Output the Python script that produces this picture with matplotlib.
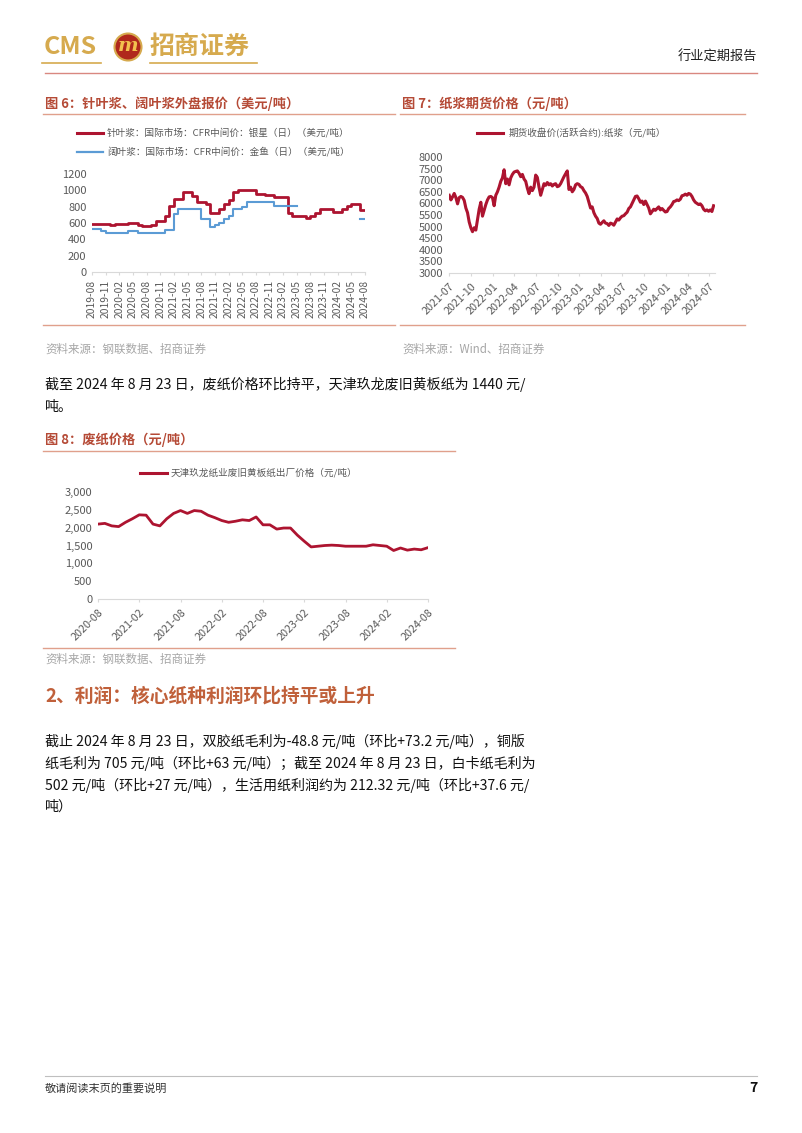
import numpy as np
import pandas as pd
import matplotlib
matplotlib.use('Agg')
import matplotlib.pyplot as plt
import matplotlib.dates as mdates
from matplotlib.lines import Line2D
from matplotlib.patches import Ellipse

plt.rcParams['font.family'] = ['Noto Sans CJK SC', 'DejaVu Sans']
plt.rcParams['axes.unicode_minus'] = False

# 图6 针叶浆 / 阔叶浆 外盘报价 (美元/吨), 月度, 2019-08 ~ 2024-08
pulp_months = pd.period_range('2019-08', '2024-08', freq='M').strftime('%Y-%m').tolist()
softwood = [590, 590, 590, 590, 570, 585, 585, 585, 600, 600, 580, 560, 560, 575, 620, 630,
            690, 810, 900, 900, 985, 985, 930, 860, 860, 830, 720, 720, 770, 830, 880, 980,
            1010, 1010, 1010, 1010, 960, 960, 940, 940, 920, 920, 920, 720, 680, 680, 680,
            665, 690, 720, 770, 770, 770, 740, 740, 770, 810, 835, 835, 760, 760]
hardwood = [525, 525, 500, 480, 480, 480, 480, 480, 505, 505, 480, 480, 480, 480, 480, 480,
            520, 520, 710, 770, 770, 770, 770, 770, 650, 650, 550, 570, 600, 650, 680, 770,
            770, 800, 860, 860, 860, 860, 860, 860, 810, 810, 810, 810, 810,
            None, None, None, None, None, None, None, None, None, None, None, None, None, None,
            650, 650]

# 图7 纸浆期货收盘价 (元/吨), 周度
futures_start = '2021-07-02'
futures = [6350, 6150, 6280, 6430, 6250, 5980, 6250, 6300, 6260, 6130,
           5800, 5600, 5200, 4950, 4780, 4950, 4850, 5300, 5750, 6050,
           5450, 5700, 5950, 6150, 6280, 6300, 6250, 5900, 6350, 6500,
           6700, 6950, 7100, 7450, 6850, 7050, 6800, 7100, 7250, 7350,
           7380, 7400, 7300, 7150, 7250, 7050, 6950, 6650, 6420, 6700,
           6550, 6700, 7220, 7120, 6700, 6350, 6600, 6850, 6780, 6900,
           6800, 6850, 6750, 6820, 6850, 6720, 6750, 6850, 7000, 7150,
           7280, 7400, 6600, 6700, 6500, 6600, 6800, 6850, 6820, 6720,
           6680, 6550, 6450, 6300, 6050, 5800, 5850, 5600, 5450, 5350,
           5150, 5100, 5180, 5250, 5150, 5130, 5050, 5150, 5120, 5060,
           5200, 5330, 5280, 5380, 5450, 5470, 5550, 5620, 5780, 5850,
           6000, 6150, 6300, 6320, 6200, 6050, 6100, 5950, 6100, 5950,
           5800, 5550, 5650, 5750, 5700, 5780, 5850, 5720, 5780, 5700,
           5630, 5650, 5780, 5850, 5950, 6080, 6100, 6150, 6120, 6180,
           6330, 6350, 6400, 6350, 6430, 6400, 6300, 6150, 6050, 6000,
           5950, 5980, 5900, 5750, 5680, 5720, 5660, 5720, 5650, 5900]

# 图8 天津玖龙废旧黄板纸出厂价 (元/吨), 月度, 2020-08 ~ 2024-08
waste_months = pd.period_range('2020-08', '2024-08', freq='M').strftime('%Y-%m').tolist()
waste = [2100, 2120, 2050, 2030, 2150, 2250, 2360, 2350, 2100, 2050,
         2250, 2400, 2480, 2400, 2480, 2460, 2350, 2280, 2200, 2150,
         2180, 2220, 2200, 2300, 2080, 2080, 1960, 1990, 1990, 1790,
         1620, 1460, 1480, 1500, 1510, 1500, 1480, 1480, 1480, 1480,
         1520, 1500, 1480, 1360, 1430, 1370, 1400, 1380, 1440]

W, H = 802, 1133
RED = '#ad1430'
BLUE = '#5b9bd5'
TITLE_C = '#b54a36'
RULE_C = '#e0a08c'
GREY = '#595959'

fig = plt.figure(figsize=(W / 100, H / 100), dpi=100)


def fx(x):
    return x / W


def fy(y):
    return 1 - y / H


def text(x, y, s, **kw):
    kw.setdefault('va', 'center')
    fig.text(fx(x), fy(y), s, **kw)


def hline(x0, x1, y, color=RULE_C, lw=1.0):
    fig.add_artist(Line2D([fx(x0), fx(x1)], [fy(y), fy(y)],
                          transform=fig.transFigure, color=color, lw=lw))


def axes_px(left, top, right, bottom):
    return fig.add_axes([fx(left), fy(bottom), (right - left) / W, (bottom - top) / H])


def style_axes(ax):
    for s in ['top', 'right', 'left']:
        ax.spines[s].set_visible(False)
    ax.spines['bottom'].set_color('#d9d9d9')
    ax.tick_params(axis='y', length=0, labelsize=8, labelcolor=GREY, pad=4)
    ax.tick_params(axis='x', length=2.5, color='#d9d9d9', labelsize=7.8, labelcolor=GREY)
    ax.set_facecolor('none')


# ---- 页眉 ----
GOLD = '#d6aa4e'
text(44, 47, 'CMS', fontsize=18, color=GOLD, fontweight='bold')
fig.add_artist(Ellipse((fx(128), fy(47)), 27 / W, 27 / H, transform=fig.transFigure,
                       facecolor='#b0281c', edgecolor=GOLD, lw=1.5))
text(128, 46, 'm', fontsize=14, color='#f2c14e', ha='center', fontweight='bold',
     style='italic', family=['DejaVu Serif'])
text(150, 47, '招商证券', fontsize=18, color=GOLD, fontweight='bold')
hline(42, 101, 63, color=GOLD, lw=1.2)
hline(150, 257, 63, color=GOLD, lw=1.2)
text(757, 57, '行业定期报告', fontsize=9.5, color='#222222', ha='right')
hline(45, 757, 73, color='#d98880', lw=1.0)

# ---- 图6 ----
text(45, 104, '图 6：针叶浆、阔叶浆外盘报价（美元/吨）', fontsize=9.5, color=TITLE_C,
     fontweight='bold')
text(402, 104, '图 7：纸浆期货价格（元/吨）', fontsize=9.5, color=TITLE_C, fontweight='bold')
hline(43, 395, 114)
hline(400, 745, 114)

fig.add_artist(Line2D([fx(77), fx(103)], [fy(133), fy(133)], transform=fig.transFigure,
                      color=RED, lw=2.2))
text(107, 133, '针叶浆：国际市场：CFR中间价：银星（日）（美元/吨）', fontsize=6.9, color=GREY)
fig.add_artist(Line2D([fx(77), fx(103)], [fy(152), fy(152)], transform=fig.transFigure,
                      color=BLUE, lw=1.6))
text(107, 152, '阔叶浆：国际市场：CFR中间价：金鱼（日）（美元/吨）', fontsize=6.9, color=GREY)

ax6 = axes_px(92, 174, 365, 272)
x6 = np.arange(len(pulp_months))
ax6.plot(x6, softwood, color=RED, lw=2.0, drawstyle='steps-post')
ax6.plot(x6, np.array(hardwood, dtype=float), color=BLUE, lw=1.5, drawstyle='steps-post')
ax6.set_ylim(0, 1200)
ax6.set_yticks(range(0, 1201, 200))
ax6.set_xlim(0, len(pulp_months) - 1)
ax6.set_xticks(x6[::3])
ax6.set_xticklabels(pulp_months[::3], rotation=90)
style_axes(ax6)
ax6.tick_params(axis='x', labelsize=7.4)

# ---- 图7 ----
fig.add_artist(Line2D([fx(477), fx(503)], [fy(133), fy(133)], transform=fig.transFigure,
                      color=RED, lw=2.2))
text(509, 133, '期货收盘价(活跃合约):纸浆（元/吨）', fontsize=6.9, color=GREY)

ax7 = axes_px(449, 157, 715, 273)
dates7 = pd.date_range(futures_start, periods=len(futures), freq='7D')
ax7.plot(dates7, futures, color=RED, lw=2.2)
ax7.set_ylim(3000, 8000)
ax7.set_yticks(range(3000, 8001, 500))
ax7.set_xlim(pd.Timestamp('2021-07-01'), pd.Timestamp('2024-07-25'))
ax7.set_xticks(pd.date_range('2021-07-01', '2024-07-01', freq='QS-JAN'))
ax7.xaxis.set_major_formatter(mdates.DateFormatter('%Y-%m'))
style_axes(ax7)
for lb in ax7.get_xticklabels():
    lb.set_rotation(45)
    lb.set_ha('right')
    lb.set_rotation_mode('anchor')

hline(43, 395, 325)
hline(400, 745, 325)
text(45, 349, '资料来源：钢联数据、招商证券', fontsize=8.3, color='#a6a6a6')
text(402, 349, '资料来源：Wind、招商证券', fontsize=8.3, color='#a6a6a6')

# ---- 正文 ----
BODY = 10.1
text(45, 384, '截至 2024 年 8 月 23 日，废纸价格环比持平，天津玖龙废旧黄板纸为 1440 元/',
     fontsize=BODY, color='#111111')
text(45, 407, '吨。', fontsize=BODY, color='#111111')

# ---- 图8 ----
text(45, 440, '图 8：废纸价格（元/吨）', fontsize=9.5, color=TITLE_C, fontweight='bold')
hline(43, 455, 451)
fig.add_artist(Line2D([fx(140), fx(167)], [fy(473), fy(473)], transform=fig.transFigure,
                      color=RED, lw=2.2))
text(171, 473, '天津玖龙纸业废旧黄板纸出厂价格（元/吨）', fontsize=6.9, color=GREY)

ax8 = axes_px(98, 492, 428, 599)
x8 = np.arange(len(waste_months))
ax8.plot(x8, waste, color=RED, lw=2.0)
ax8.set_ylim(0, 3000)
ax8.set_yticks(range(0, 3001, 500))
ax8.yaxis.set_major_formatter(matplotlib.ticker.StrMethodFormatter('{x:,.0f}'))
ax8.set_xlim(0, len(waste_months) - 1)
ax8.set_xticks(x8[::6])
ax8.set_xticklabels(waste_months[::6], rotation=45, ha='right', rotation_mode='anchor')
style_axes(ax8)

hline(43, 455, 648)
text(45, 659, '资料来源：钢联数据、招商证券', fontsize=8.3, color='#a6a6a6')

# ---- 2、利润 ----
text(45, 696, '2、利润：核心纸种利润环比持平或上升', fontsize=13.5, color='#c0603a',
     fontweight='bold')
para = ['截止 2024 年 8 月 23 日，双胶纸毛利为-48.8 元/吨（环比+73.2 元/吨），铜版',
        '纸毛利为 705 元/吨（环比+63 元/吨）；截至 2024 年 8 月 23 日，白卡纸毛利为',
        '502 元/吨（环比+27 元/吨），生活用纸利润约为 212.32 元/吨（环比+37.6 元/',
        '吨）']
for i, line in enumerate(para):
    text(45, 741 + 22 * i, line, fontsize=BODY, color='#111111')

# ---- 页脚 ----
hline(45, 757, 1076, color='#bfbfbf', lw=0.8)
text(45, 1088, '敬请阅读末页的重要说明', fontsize=8, color='#333333')
text(757, 1088, '7', fontsize=10, color='#111111', ha='right', fontweight='bold')

fig.savefig('out.png', dpi=100)
